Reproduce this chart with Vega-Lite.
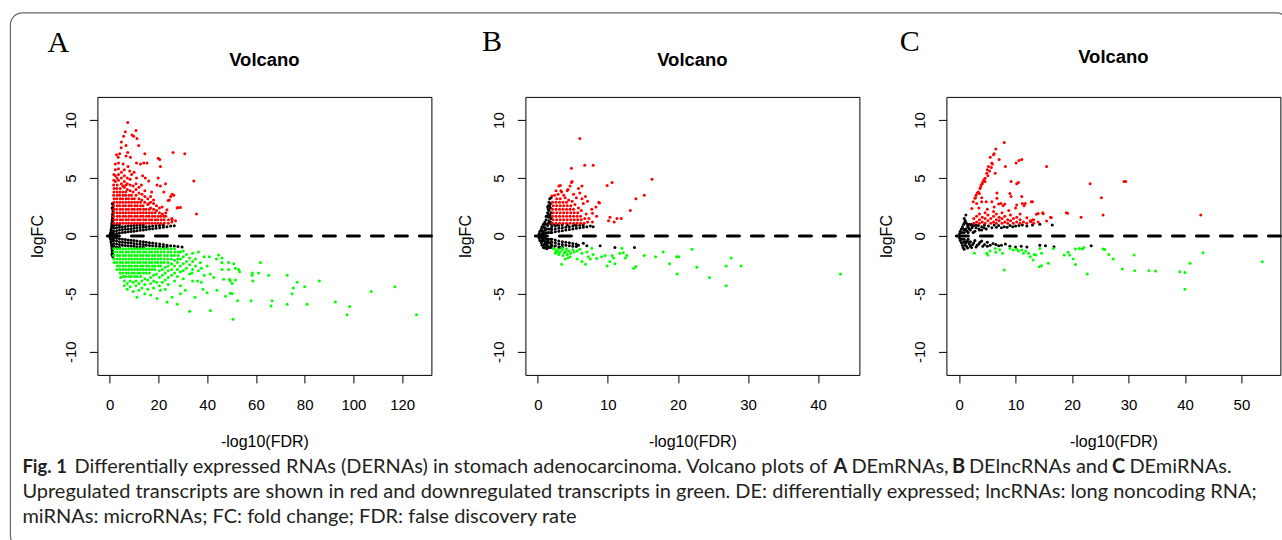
{
"$schema":"https://vega.github.io/schema/vega-lite/v6.json",
"background":"white",
"padding":{"left":8.4,"top":10.9,"right":-5.6,"bottom":-7.1},
"config":{
"font":"Liberation Sans",
"view":{"stroke":"#000","strokeWidth":1},
"axis":{"grid":false,"domain":false,"tickColor":"#000","tickSize":8,"tickWidth":1,"labelColor":"#000","labelFontSize":15,"labelFont":"Liberation Sans","titleFont":"Liberation Sans","titleFontSize":16,"titleFontWeight":"normal","titleColor":"#000","labelOverlap":false,"labelFlush":false},
"axisX":{"labelPadding":14.7,"titlePadding":21},
"axisY":{"labelAngle":270,"labelAlign":"center","labelBaseline":"bottom","labelPadding":10.9,"titlePadding":18},
"circle":{"size":9,"opacity":1}
},
"datasets":{
"A":[
{"x":0.1,"y":0,"g":"n"},{"x":0.2,"y":0.15,"g":"n"},{"x":0.2,"y":-0.15,"g":"n"},{"x":0.4,"y":0.3,"g":"n"},{"x":0.4,"y":-0.3,"g":"n"},{"x":0.5,"y":0.5,"g":"n"},{"x":0.5,"y":-0.5,"g":"n"},{"x":0.7,"y":0.7,"g":"n"},{"x":0.7,"y":-0.7,"g":"n"},{"x":0.8,"y":0.9,"g":"n"},{"x":0.8,"y":-0.9,"g":"n"},{"x":0.9,"y":1.1,"g":"n"},{"x":0.9,"y":-1.1,"g":"n"},{"x":1,"y":1.3,"g":"n"},{"x":1,"y":-1.3,"g":"n"},{"x":1.1,"y":1.5,"g":"n"},{"x":1.1,"y":-1.5,"g":"n"},{"x":1.2,"y":1.7,"g":"n"},{"x":1.2,"y":-1.7,"g":"n"},{"x":1.2,"y":1.9,"g":"n"},{"x":1.3,"y":2.1,"g":"n"},{"x":1.3,"y":2.3,"g":"n"},{"x":1.3,"y":2.5,"g":"n"},{"x":1.3,"y":2.7,"g":"n"},{"x":1.3,"y":-1.8,"g":"n"},{"x":1.1,"y":1.2,"g":"n"},{"x":1.2,"y":1,"g":"n"},{"x":1.3,"y":0.8,"g":"n"},{"x":1.3,"y":-0.8,"g":"n"},{"x":1.2,"y":-1.2,"g":"n"},{"x":1.3,"y":1.4,"g":"n"},{"x":1.3,"y":-1.4,"g":"n"},{"x":0.9,"y":0.4,"g":"n"},{"x":1.1,"y":-0.4,"g":"n"},{"x":1,"y":0.2,"g":"n"},{"x":1.3,"y":0.3,"g":"n"},{"x":1.3,"y":-0.3,"g":"n"},{"x":1.3,"y":1.8,"g":"n"},{"x":1.3,"y":-1.6,"g":"n"},{"x":1.3,"y":1.1,"g":"n"},{"x":1.3,"y":-1.1,"g":"n"},{"x":1,"y":2.4,"g":"n"},{"x":1.1,"y":2.8,"g":"n"},{"x":0.9,"y":-1.6,"g":"n"},
{"x":1.6,"y":0.15,"g":"n"},{"x":1.6,"y":0.4,"g":"n"},{"x":1.6,"y":0.65,"g":"n"},{"x":1.6,"y":0.9,"g":"n"},{"x":2.8,"y":0.2,"g":"n"},{"x":2.8,"y":0.45,"g":"n"},{"x":2.8,"y":0.7,"g":"n"},{"x":2.8,"y":0.95,"g":"n"},{"x":4,"y":0.25,"g":"n"},{"x":4,"y":0.5,"g":"n"},{"x":4,"y":0.75,"g":"n"},{"x":4,"y":0.95,"g":"n"},{"x":5.2,"y":0.3,"g":"n"},{"x":5.2,"y":0.55,"g":"n"},{"x":5.2,"y":0.8,"g":"n"},{"x":6.4,"y":0.32,"g":"n"},{"x":6.4,"y":0.57,"g":"n"},{"x":6.4,"y":0.82,"g":"n"},{"x":7.6,"y":0.35,"g":"n"},{"x":7.6,"y":0.6,"g":"n"},{"x":7.6,"y":0.85,"g":"n"},{"x":8.8,"y":0.38,"g":"n"},{"x":8.8,"y":0.62,"g":"n"},{"x":8.8,"y":0.88,"g":"n"},{"x":10,"y":0.4,"g":"n"},{"x":10,"y":0.65,"g":"n"},{"x":10,"y":0.9,"g":"n"},{"x":11.2,"y":0.45,"g":"n"},{"x":11.2,"y":0.7,"g":"n"},{"x":11.2,"y":0.92,"g":"n"},{"x":12.5,"y":0.48,"g":"n"},{"x":12.5,"y":0.72,"g":"n"},{"x":12.5,"y":0.95,"g":"n"},{"x":13.8,"y":0.5,"g":"n"},{"x":13.8,"y":0.75,"g":"n"},{"x":13.8,"y":0.95,"g":"n"},{"x":15,"y":0.55,"g":"n"},{"x":15,"y":0.78,"g":"n"},{"x":16.3,"y":0.6,"g":"n"},{"x":16.3,"y":0.82,"g":"n"},{"x":17.6,"y":0.62,"g":"n"},{"x":17.6,"y":0.85,"g":"n"},{"x":19,"y":0.66,"g":"n"},{"x":19,"y":0.88,"g":"n"},{"x":20.5,"y":0.7,"g":"n"},{"x":20.5,"y":0.9,"g":"n"},{"x":22,"y":0.75,"g":"n"},{"x":22,"y":0.93,"g":"n"},{"x":23.5,"y":0.8,"g":"n"},{"x":25,"y":0.85,"g":"n"},{"x":26.5,"y":0.88,"g":"n"},
{"x":1.6,"y":-0.15,"g":"n"},{"x":1.6,"y":-0.4,"g":"n"},{"x":1.6,"y":-0.65,"g":"n"},{"x":1.6,"y":-0.9,"g":"n"},{"x":2.8,"y":-0.2,"g":"n"},{"x":2.8,"y":-0.45,"g":"n"},{"x":2.8,"y":-0.7,"g":"n"},{"x":2.8,"y":-0.95,"g":"n"},{"x":4,"y":-0.25,"g":"n"},{"x":4,"y":-0.5,"g":"n"},{"x":4,"y":-0.75,"g":"n"},{"x":4,"y":-0.97,"g":"n"},{"x":5.2,"y":-0.3,"g":"n"},{"x":5.2,"y":-0.55,"g":"n"},{"x":5.2,"y":-0.8,"g":"n"},{"x":6.4,"y":-0.32,"g":"n"},{"x":6.4,"y":-0.57,"g":"n"},{"x":6.4,"y":-0.82,"g":"n"},{"x":7.6,"y":-0.35,"g":"n"},{"x":7.6,"y":-0.6,"g":"n"},{"x":7.6,"y":-0.85,"g":"n"},{"x":8.8,"y":-0.38,"g":"n"},{"x":8.8,"y":-0.62,"g":"n"},{"x":8.8,"y":-0.88,"g":"n"},{"x":10,"y":-0.4,"g":"n"},{"x":10,"y":-0.65,"g":"n"},{"x":10,"y":-0.9,"g":"n"},{"x":11.2,"y":-0.45,"g":"n"},{"x":11.2,"y":-0.7,"g":"n"},{"x":11.2,"y":-0.93,"g":"n"},{"x":12.5,"y":-0.48,"g":"n"},{"x":12.5,"y":-0.72,"g":"n"},{"x":12.5,"y":-0.95,"g":"n"},{"x":13.8,"y":-0.5,"g":"n"},{"x":13.8,"y":-0.75,"g":"n"},{"x":13.8,"y":-0.96,"g":"n"},{"x":15,"y":-0.55,"g":"n"},{"x":15,"y":-0.8,"g":"n"},{"x":16.3,"y":-0.6,"g":"n"},{"x":16.3,"y":-0.83,"g":"n"},{"x":17.6,"y":-0.62,"g":"n"},{"x":17.6,"y":-0.86,"g":"n"},{"x":19,"y":-0.66,"g":"n"},{"x":19,"y":-0.88,"g":"n"},{"x":20.5,"y":-0.7,"g":"n"},{"x":20.5,"y":-0.9,"g":"n"},{"x":22,"y":-0.75,"g":"n"},{"x":22,"y":-0.93,"g":"n"},{"x":23.5,"y":-0.8,"g":"n"},{"x":23.5,"y":-0.95,"g":"n"},{"x":25,"y":-0.85,"g":"n"},{"x":26.5,"y":-0.88,"g":"n"},{"x":28,"y":-0.92,"g":"n"},{"x":29.7,"y":-0.95,"g":"n"},
{"x":1.7,"y":1.1,"g":"u"},{"x":1.8,"y":1.4,"g":"u"},{"x":1.6,"y":1.7,"g":"u"},{"x":1.7,"y":2,"g":"u"},{"x":1.8,"y":2.3,"g":"u"},{"x":1.6,"y":2.6,"g":"u"},{"x":1.7,"y":2.9,"g":"u"},{"x":1.8,"y":3.2,"g":"u"},{"x":1.6,"y":3.5,"g":"u"},{"x":1.7,"y":3.8,"g":"u"},{"x":1.8,"y":4.1,"g":"u"},{"x":1.6,"y":4.4,"g":"u"},
{"x":3,"y":1.1,"g":"u"},{"x":2.9,"y":1.4,"g":"u"},{"x":3.1,"y":1.7,"g":"u"},{"x":3,"y":2,"g":"u"},{"x":2.9,"y":2.3,"g":"u"},{"x":3.1,"y":2.6,"g":"u"},{"x":3,"y":2.9,"g":"u"},{"x":2.9,"y":3.2,"g":"u"},{"x":3.1,"y":3.5,"g":"u"},{"x":3,"y":3.8,"g":"u"},{"x":2.9,"y":4.1,"g":"u"},{"x":3.1,"y":4.4,"g":"u"},
{"x":4.2,"y":1.1,"g":"u"},{"x":4.3,"y":1.4,"g":"u"},{"x":4.1,"y":1.7,"g":"u"},{"x":4.2,"y":2,"g":"u"},{"x":4.3,"y":2.3,"g":"u"},{"x":4.1,"y":2.6,"g":"u"},{"x":4.2,"y":2.9,"g":"u"},{"x":4.3,"y":3.2,"g":"u"},{"x":4.1,"y":3.5,"g":"u"},{"x":4.2,"y":3.8,"g":"u"},{"x":4.3,"y":4.1,"g":"u"},
{"x":5.4,"y":1.1,"g":"u"},{"x":5.3,"y":1.4,"g":"u"},{"x":5.5,"y":1.7,"g":"u"},{"x":5.4,"y":2,"g":"u"},{"x":5.3,"y":2.3,"g":"u"},{"x":5.5,"y":2.6,"g":"u"},{"x":5.4,"y":2.9,"g":"u"},{"x":5.3,"y":3.2,"g":"u"},{"x":5.5,"y":3.5,"g":"u"},{"x":5.4,"y":3.8,"g":"u"},
{"x":6.6,"y":1.1,"g":"u"},{"x":6.7,"y":1.4,"g":"u"},{"x":6.5,"y":1.7,"g":"u"},{"x":6.6,"y":2,"g":"u"},{"x":6.7,"y":2.3,"g":"u"},{"x":6.5,"y":2.6,"g":"u"},{"x":6.6,"y":2.9,"g":"u"},{"x":6.7,"y":3.2,"g":"u"},{"x":6.5,"y":3.5,"g":"u"},{"x":6.6,"y":3.8,"g":"u"},
{"x":7.8,"y":1.1,"g":"u"},{"x":7.7,"y":1.4,"g":"u"},{"x":7.9,"y":1.7,"g":"u"},{"x":7.8,"y":2,"g":"u"},{"x":7.7,"y":2.3,"g":"u"},{"x":7.9,"y":2.6,"g":"u"},{"x":7.8,"y":2.9,"g":"u"},{"x":7.7,"y":3.2,"g":"u"},{"x":7.9,"y":3.5,"g":"u"},
{"x":9,"y":1.1,"g":"u"},{"x":9.1,"y":1.4,"g":"u"},{"x":8.9,"y":1.7,"g":"u"},{"x":9,"y":2,"g":"u"},{"x":9.1,"y":2.3,"g":"u"},{"x":8.9,"y":2.6,"g":"u"},{"x":9,"y":2.9,"g":"u"},{"x":9.1,"y":3.2,"g":"u"},{"x":8.9,"y":3.5,"g":"u"},
{"x":10.2,"y":1.1,"g":"u"},{"x":10.1,"y":1.4,"g":"u"},{"x":10.3,"y":1.7,"g":"u"},{"x":10.2,"y":2,"g":"u"},{"x":10.1,"y":2.3,"g":"u"},{"x":10.3,"y":2.6,"g":"u"},{"x":10.2,"y":2.9,"g":"u"},{"x":10.1,"y":3.2,"g":"u"},
{"x":11.4,"y":1.1,"g":"u"},{"x":11.5,"y":1.4,"g":"u"},{"x":11.3,"y":1.7,"g":"u"},{"x":11.4,"y":2,"g":"u"},{"x":11.5,"y":2.3,"g":"u"},{"x":11.3,"y":2.6,"g":"u"},{"x":11.4,"y":2.9,"g":"u"},
{"x":12.6,"y":1.1,"g":"u"},{"x":12.5,"y":1.4,"g":"u"},{"x":12.7,"y":1.7,"g":"u"},{"x":12.6,"y":2,"g":"u"},{"x":12.5,"y":2.3,"g":"u"},{"x":12.7,"y":2.6,"g":"u"},{"x":12.6,"y":2.9,"g":"u"},
{"x":13.8,"y":1.1,"g":"u"},{"x":13.9,"y":1.4,"g":"u"},{"x":13.7,"y":1.7,"g":"u"},{"x":13.8,"y":2,"g":"u"},{"x":13.9,"y":2.3,"g":"u"},{"x":13.7,"y":2.6,"g":"u"},
{"x":15,"y":1.1,"g":"u"},{"x":14.9,"y":1.4,"g":"u"},{"x":15.1,"y":1.7,"g":"u"},{"x":15,"y":2,"g":"u"},{"x":14.9,"y":2.3,"g":"u"},
{"x":16.2,"y":1.1,"g":"u"},{"x":16.3,"y":1.4,"g":"u"},{"x":16.1,"y":1.7,"g":"u"},{"x":16.2,"y":2,"g":"u"},{"x":16.3,"y":2.3,"g":"u"},
{"x":17.4,"y":1.1,"g":"u"},{"x":17.3,"y":1.4,"g":"u"},{"x":17.5,"y":1.7,"g":"u"},{"x":17.4,"y":2,"g":"u"},
{"x":18.6,"y":1.1,"g":"u"},{"x":18.7,"y":1.4,"g":"u"},{"x":18.5,"y":1.7,"g":"u"},{"x":18.6,"y":2,"g":"u"},
{"x":19.8,"y":1.1,"g":"u"},{"x":19.7,"y":1.4,"g":"u"},{"x":19.9,"y":1.7,"g":"u"},
{"x":21,"y":1.1,"g":"u"},{"x":21.1,"y":1.4,"g":"u"},{"x":20.9,"y":1.7,"g":"u"},
{"x":22.4,"y":1.1,"g":"u"},{"x":22.3,"y":1.4,"g":"u"},{"x":24,"y":1.1,"g":"u"},{"x":24.1,"y":1.4,"g":"u"},
{"x":2.3,"y":4.7,"g":"u"},{"x":2.3,"y":5.2,"g":"u"},{"x":2.3,"y":5.7,"g":"u"},{"x":2.3,"y":6.2,"g":"u"},{"x":3.6,"y":4.8,"g":"u"},{"x":3.6,"y":5.3,"g":"u"},{"x":3.6,"y":5.8,"g":"u"},{"x":3.6,"y":6.3,"g":"u"},{"x":4.8,"y":4.5,"g":"u"},{"x":4.8,"y":5,"g":"u"},{"x":4.8,"y":5.5,"g":"u"},{"x":6,"y":4.2,"g":"u"},{"x":6,"y":4.7,"g":"u"},{"x":6,"y":5.2,"g":"u"},{"x":6,"y":5.7,"g":"u"},{"x":7.2,"y":4,"g":"u"},{"x":7.2,"y":4.5,"g":"u"},{"x":7.2,"y":5,"g":"u"},{"x":8.4,"y":3.9,"g":"u"},{"x":8.4,"y":4.4,"g":"u"},{"x":8.4,"y":4.9,"g":"u"},{"x":9.6,"y":3.8,"g":"u"},{"x":9.6,"y":4.3,"g":"u"},{"x":10.8,"y":3.5,"g":"u"},{"x":10.8,"y":4,"g":"u"},{"x":10.8,"y":4.5,"g":"u"},{"x":12,"y":3.2,"g":"u"},{"x":12,"y":3.7,"g":"u"},{"x":12,"y":4.2,"g":"u"},{"x":13.2,"y":3.1,"g":"u"},{"x":13.2,"y":3.6,"g":"u"},{"x":14.4,"y":2.9,"g":"u"},{"x":14.4,"y":3.4,"g":"u"},{"x":14.4,"y":3.9,"g":"u"},{"x":15.6,"y":2.7,"g":"u"},{"x":15.6,"y":3.2,"g":"u"},{"x":16.8,"y":2.4,"g":"u"},{"x":16.8,"y":2.9,"g":"u"},{"x":16.8,"y":3.4,"g":"u"},{"x":18,"y":2.3,"g":"u"},{"x":18,"y":2.8,"g":"u"},{"x":19.2,"y":2.2,"g":"u"},{"x":19.2,"y":2.6,"g":"u"},{"x":20.4,"y":2,"g":"u"},{"x":20.4,"y":2.4,"g":"u"},{"x":21.6,"y":1.9,"g":"u"},{"x":23,"y":1.7,"g":"u"},{"x":23,"y":2,"g":"u"},{"x":25.5,"y":1.2,"g":"u"},{"x":25.5,"y":1.5,"g":"u"},{"x":27,"y":1.3,"g":"u"},{"x":1.7,"y":4.8,"g":"u"},{"x":1.7,"y":5.3,"g":"u"},{"x":3,"y":5,"g":"u"},{"x":5.4,"y":4.3,"g":"u"},{"x":6.6,"y":4.4,"g":"u"},
{"x":7.4,"y":9.8,"g":"u"},{"x":10.8,"y":9.1,"g":"u"},{"x":6.4,"y":9,"g":"u"},{"x":5.7,"y":8.6,"g":"u"},{"x":9.2,"y":8.7,"g":"u"},{"x":9.8,"y":8.6,"g":"u"},{"x":11.2,"y":8.4,"g":"u"},{"x":4.8,"y":8.1,"g":"u"},{"x":6.7,"y":7.8,"g":"u"},{"x":11.9,"y":7.8,"g":"u"},{"x":4.7,"y":7.6,"g":"u"},{"x":4.1,"y":7.1,"g":"u"},{"x":7.4,"y":7.2,"g":"u"},{"x":6.7,"y":6.9,"g":"u"},{"x":14.4,"y":7.1,"g":"u"},{"x":19.9,"y":6.7,"g":"u"},{"x":20.5,"y":6.6,"g":"u"},{"x":26,"y":7.2,"g":"u"},{"x":30.8,"y":7.1,"g":"u"},{"x":15.3,"y":6.3,"g":"u"},{"x":14,"y":6.3,"g":"u"},{"x":12.6,"y":6.2,"g":"u"},{"x":20.8,"y":6,"g":"u"},{"x":34.5,"y":4.75,"g":"u"},{"x":14.6,"y":5,"g":"u"},{"x":16,"y":4.75,"g":"u"},{"x":19.9,"y":5,"g":"u"},{"x":22.9,"y":4.5,"g":"u"},{"x":22.2,"y":3.8,"g":"u"},{"x":25.6,"y":3.6,"g":"u"},{"x":26.3,"y":3.5,"g":"u"},{"x":19.4,"y":4.4,"g":"u"},{"x":20.8,"y":4.3,"g":"u"},{"x":24,"y":3.05,"g":"u"},{"x":24.5,"y":3.1,"g":"u"},{"x":27.7,"y":2.4,"g":"u"},{"x":29,"y":2.45,"g":"u"},{"x":35.6,"y":1.9,"g":"u"},{"x":25.6,"y":1.4,"g":"u"},{"x":22.2,"y":1.7,"g":"u"},{"x":23.5,"y":2.25,"g":"u"},{"x":21.5,"y":2.5,"g":"u"},{"x":16,"y":2.8,"g":"u"},{"x":18,"y":3.1,"g":"u"},{"x":2.8,"y":7,"g":"u"},{"x":3.5,"y":6.8,"g":"u"},{"x":5.5,"y":6.2,"g":"u"},{"x":8.5,"y":6.8,"g":"u"},{"x":11,"y":6.3,"g":"u"},{"x":9,"y":5.3,"g":"u"},{"x":10,"y":5.5,"g":"u"},{"x":8.2,"y":5.6,"g":"u"},{"x":11,"y":5,"g":"u"},{"x":13,"y":4.4,"g":"u"},{"x":7.5,"y":6,"g":"u"},{"x":28,"y":2.45,"g":"u"},{"x":25,"y":3.4,"g":"u"},{"x":17.2,"y":3.8,"g":"u"},{"x":13.5,"y":5.2,"g":"u"},
{"x":1.7,"y":-1.1,"g":"d"},{"x":1.8,"y":-1.4,"g":"d"},{"x":1.6,"y":-1.7,"g":"d"},{"x":1.7,"y":-2,"g":"d"},{"x":1.8,"y":-2.3,"g":"d"},
{"x":3,"y":-1.1,"g":"d"},{"x":2.9,"y":-1.4,"g":"d"},{"x":3.1,"y":-1.7,"g":"d"},{"x":3,"y":-2,"g":"d"},{"x":2.9,"y":-2.3,"g":"d"},{"x":3.1,"y":-2.6,"g":"d"},{"x":3,"y":-2.9,"g":"d"},
{"x":4.2,"y":-1.1,"g":"d"},{"x":4.3,"y":-1.4,"g":"d"},{"x":4.1,"y":-1.7,"g":"d"},{"x":4.2,"y":-2,"g":"d"},{"x":4.3,"y":-2.3,"g":"d"},{"x":4.1,"y":-2.6,"g":"d"},{"x":4.2,"y":-2.9,"g":"d"},{"x":4.3,"y":-3.2,"g":"d"},
{"x":5.4,"y":-1.1,"g":"d"},{"x":5.3,"y":-1.4,"g":"d"},{"x":5.5,"y":-1.7,"g":"d"},{"x":5.4,"y":-2,"g":"d"},{"x":5.3,"y":-2.3,"g":"d"},{"x":5.5,"y":-2.6,"g":"d"},{"x":5.4,"y":-2.9,"g":"d"},{"x":5.3,"y":-3.2,"g":"d"},{"x":5.5,"y":-3.5,"g":"d"},
{"x":6.6,"y":-1.1,"g":"d"},{"x":6.7,"y":-1.4,"g":"d"},{"x":6.5,"y":-1.7,"g":"d"},{"x":6.6,"y":-2,"g":"d"},{"x":6.7,"y":-2.3,"g":"d"},{"x":6.5,"y":-2.6,"g":"d"},{"x":6.6,"y":-2.9,"g":"d"},{"x":6.7,"y":-3.2,"g":"d"},{"x":6.5,"y":-3.5,"g":"d"},
{"x":7.8,"y":-1.1,"g":"d"},{"x":7.7,"y":-1.4,"g":"d"},{"x":7.9,"y":-1.7,"g":"d"},{"x":7.8,"y":-2,"g":"d"},{"x":7.7,"y":-2.3,"g":"d"},{"x":7.9,"y":-2.6,"g":"d"},{"x":7.8,"y":-2.9,"g":"d"},{"x":7.7,"y":-3.2,"g":"d"},{"x":7.9,"y":-3.5,"g":"d"},
{"x":9,"y":-1.1,"g":"d"},{"x":9.1,"y":-1.4,"g":"d"},{"x":8.9,"y":-1.7,"g":"d"},{"x":9,"y":-2,"g":"d"},{"x":9.1,"y":-2.3,"g":"d"},{"x":8.9,"y":-2.6,"g":"d"},{"x":9,"y":-2.9,"g":"d"},{"x":9.1,"y":-3.2,"g":"d"},{"x":8.9,"y":-3.5,"g":"d"},
{"x":10.2,"y":-1.1,"g":"d"},{"x":10.1,"y":-1.4,"g":"d"},{"x":10.3,"y":-1.7,"g":"d"},{"x":10.2,"y":-2,"g":"d"},{"x":10.1,"y":-2.3,"g":"d"},{"x":10.3,"y":-2.6,"g":"d"},{"x":10.2,"y":-2.9,"g":"d"},{"x":10.1,"y":-3.2,"g":"d"},{"x":10.3,"y":-3.5,"g":"d"},
{"x":11.4,"y":-1.1,"g":"d"},{"x":11.5,"y":-1.4,"g":"d"},{"x":11.3,"y":-1.7,"g":"d"},{"x":11.4,"y":-2,"g":"d"},{"x":11.5,"y":-2.3,"g":"d"},{"x":11.3,"y":-2.6,"g":"d"},{"x":11.4,"y":-2.9,"g":"d"},{"x":11.5,"y":-3.2,"g":"d"},{"x":11.3,"y":-3.5,"g":"d"},
{"x":12.6,"y":-1.1,"g":"d"},{"x":12.5,"y":-1.4,"g":"d"},{"x":12.7,"y":-1.7,"g":"d"},{"x":12.6,"y":-2,"g":"d"},{"x":12.5,"y":-2.3,"g":"d"},{"x":12.7,"y":-2.6,"g":"d"},{"x":12.6,"y":-2.9,"g":"d"},{"x":12.5,"y":-3.2,"g":"d"},{"x":12.7,"y":-3.5,"g":"d"},
{"x":13.8,"y":-1.1,"g":"d"},{"x":13.9,"y":-1.4,"g":"d"},{"x":13.7,"y":-1.7,"g":"d"},{"x":13.8,"y":-2,"g":"d"},{"x":13.9,"y":-2.3,"g":"d"},{"x":13.7,"y":-2.6,"g":"d"},{"x":13.8,"y":-2.9,"g":"d"},{"x":13.9,"y":-3.2,"g":"d"},
{"x":15,"y":-1.1,"g":"d"},{"x":14.9,"y":-1.4,"g":"d"},{"x":15.1,"y":-1.7,"g":"d"},{"x":15,"y":-2,"g":"d"},{"x":14.9,"y":-2.3,"g":"d"},{"x":15.1,"y":-2.6,"g":"d"},{"x":15,"y":-2.9,"g":"d"},{"x":14.9,"y":-3.2,"g":"d"},
{"x":16.2,"y":-1.1,"g":"d"},{"x":16.3,"y":-1.4,"g":"d"},{"x":16.1,"y":-1.7,"g":"d"},{"x":16.2,"y":-2,"g":"d"},{"x":16.3,"y":-2.3,"g":"d"},{"x":16.1,"y":-2.6,"g":"d"},{"x":16.2,"y":-2.9,"g":"d"},{"x":16.3,"y":-3.2,"g":"d"},
{"x":17.4,"y":-1.1,"g":"d"},{"x":17.3,"y":-1.4,"g":"d"},{"x":17.5,"y":-1.7,"g":"d"},{"x":17.4,"y":-2,"g":"d"},{"x":17.3,"y":-2.3,"g":"d"},{"x":17.5,"y":-2.6,"g":"d"},{"x":17.4,"y":-2.9,"g":"d"},
{"x":18.6,"y":-1.1,"g":"d"},{"x":18.7,"y":-1.4,"g":"d"},{"x":18.5,"y":-1.7,"g":"d"},{"x":18.6,"y":-2,"g":"d"},{"x":18.7,"y":-2.3,"g":"d"},{"x":18.5,"y":-2.6,"g":"d"},{"x":18.6,"y":-2.9,"g":"d"},
{"x":19.8,"y":-1.1,"g":"d"},{"x":19.7,"y":-1.4,"g":"d"},{"x":19.9,"y":-1.7,"g":"d"},{"x":19.8,"y":-2,"g":"d"},{"x":19.7,"y":-2.3,"g":"d"},{"x":19.9,"y":-2.6,"g":"d"},
{"x":21,"y":-1.1,"g":"d"},{"x":21.1,"y":-1.4,"g":"d"},{"x":20.9,"y":-1.7,"g":"d"},{"x":21,"y":-2,"g":"d"},{"x":21.1,"y":-2.3,"g":"d"},{"x":20.9,"y":-2.6,"g":"d"},
{"x":22.4,"y":-1.1,"g":"d"},{"x":22.3,"y":-1.4,"g":"d"},{"x":22.5,"y":-1.7,"g":"d"},{"x":22.4,"y":-2,"g":"d"},{"x":22.3,"y":-2.3,"g":"d"},
{"x":23.8,"y":-1.1,"g":"d"},{"x":23.9,"y":-1.4,"g":"d"},{"x":23.7,"y":-1.7,"g":"d"},{"x":23.8,"y":-2,"g":"d"},{"x":23.9,"y":-2.3,"g":"d"},
{"x":25.2,"y":-1.1,"g":"d"},{"x":25.1,"y":-1.4,"g":"d"},{"x":25.3,"y":-1.7,"g":"d"},{"x":25.2,"y":-2,"g":"d"},
{"x":26.6,"y":-1.1,"g":"d"},{"x":26.7,"y":-1.4,"g":"d"},{"x":26.5,"y":-1.7,"g":"d"},{"x":28,"y":-1.4,"g":"d"},{"x":28.1,"y":-1.7,"g":"d"},{"x":27.9,"y":-2,"g":"d"},
{"x":4.5,"y":-3.6,"g":"d"},{"x":6,"y":-3.9,"g":"d"},{"x":6,"y":-4.3,"g":"d"},{"x":7.2,"y":-4.1,"g":"d"},{"x":7.2,"y":-4.6,"g":"d"},{"x":8.4,"y":-3.9,"g":"d"},{"x":8.4,"y":-4.4,"g":"d"},{"x":9.6,"y":-4,"g":"d"},{"x":9.6,"y":-4.8,"g":"d"},{"x":10.8,"y":-3.9,"g":"d"},{"x":10.8,"y":-4.3,"g":"d"},{"x":11.2,"y":-5.3,"g":"d"},{"x":12,"y":-4.1,"g":"d"},{"x":12,"y":-4.7,"g":"d"},{"x":13.2,"y":-3.9,"g":"d"},{"x":13.2,"y":-4.5,"g":"d"},{"x":14.4,"y":-3.7,"g":"d"},{"x":14.4,"y":-4.2,"g":"d"},{"x":14.4,"y":-5,"g":"d"},{"x":15.6,"y":-3.8,"g":"d"},{"x":15.6,"y":-4.6,"g":"d"},{"x":16.8,"y":-3.6,"g":"d"},{"x":16.8,"y":-4.1,"g":"d"},{"x":16.8,"y":-5.1,"g":"d"},{"x":18,"y":-3.4,"g":"d"},{"x":18,"y":-3.9,"g":"d"},{"x":18,"y":-4.5,"g":"d"},{"x":19.2,"y":-3.3,"g":"d"},{"x":19.2,"y":-4,"g":"d"},{"x":19.4,"y":-5.4,"g":"d"},{"x":20.4,"y":-3,"g":"d"},{"x":20.4,"y":-3.6,"g":"d"},{"x":20.4,"y":-4.3,"g":"d"},{"x":20.8,"y":-4.7,"g":"d"},{"x":21.6,"y":-2.9,"g":"d"},{"x":21.6,"y":-3.4,"g":"d"},{"x":21.6,"y":-4,"g":"d"},{"x":22.8,"y":-2.7,"g":"d"},{"x":22.8,"y":-3.2,"g":"d"},{"x":22.8,"y":-3.8,"g":"d"},{"x":22.8,"y":-4.6,"g":"d"},{"x":23.5,"y":-5.7,"g":"d"},{"x":24,"y":-2.6,"g":"d"},{"x":24,"y":-3,"g":"d"},{"x":24,"y":-3.6,"g":"d"},{"x":24,"y":-4.2,"g":"d"},{"x":25.4,"y":-2.4,"g":"d"},{"x":25.4,"y":-2.9,"g":"d"},{"x":25.4,"y":-3.4,"g":"d"},{"x":25.6,"y":-5.3,"g":"d"},{"x":26.6,"y":-2.1,"g":"d"},{"x":26.6,"y":-2.6,"g":"d"},{"x":26.6,"y":-3.2,"g":"d"},{"x":26.6,"y":-3.9,"g":"d"},{"x":27.7,"y":-5.9,"g":"d"},{"x":27.8,"y":-2.3,"g":"d"},{"x":27.8,"y":-2.9,"g":"d"},{"x":27.8,"y":-3.5,"g":"d"},{"x":29,"y":-1.4,"g":"d"},{"x":29,"y":-2,"g":"d"},{"x":29,"y":-2.6,"g":"d"},{"x":29,"y":-3.1,"g":"d"},{"x":29,"y":-4.3,"g":"d"},{"x":29,"y":-5,"g":"d"},{"x":30.2,"y":-1.3,"g":"d"},{"x":30.2,"y":-1.8,"g":"d"},{"x":30.2,"y":-2.4,"g":"d"},{"x":30.2,"y":-3,"g":"d"},{"x":30.2,"y":-3.7,"g":"d"},{"x":31,"y":-4.7,"g":"d"},{"x":31.5,"y":-1.6,"g":"d"},{"x":31.5,"y":-2.2,"g":"d"},{"x":31.5,"y":-2.8,"g":"d"},{"x":32.8,"y":-1.9,"g":"d"},{"x":32.8,"y":-2.5,"g":"d"},{"x":32.8,"y":-3.3,"g":"d"},{"x":32.8,"y":-6.5,"g":"d"},{"x":33.8,"y":-3.2,"g":"d"},{"x":34,"y":-1.5,"g":"d"},{"x":34,"y":-2.2,"g":"d"},{"x":34,"y":-2.9,"g":"d"},{"x":34,"y":-3.9,"g":"d"},{"x":35,"y":-5.3,"g":"d"},{"x":35.2,"y":-2,"g":"d"},{"x":35.2,"y":-2.6,"g":"d"},{"x":36,"y":-3.9,"g":"d"},{"x":36.4,"y":-1.4,"g":"d"},{"x":36.4,"y":-3,"g":"d"},{"x":37.2,"y":-2.3,"g":"d"},{"x":37.6,"y":-2.8,"g":"d"},{"x":37.6,"y":-4,"g":"d"},{"x":38.3,"y":-4.6,"g":"d"},{"x":38.8,"y":-1.8,"g":"d"},{"x":38.8,"y":-3.4,"g":"d"},{"x":40,"y":-2.6,"g":"d"},{"x":40,"y":-4.9,"g":"d"},{"x":40.9,"y":-1.8,"g":"d"},{"x":41.3,"y":-3.3,"g":"d"},{"x":41.3,"y":-6.45,"g":"d"},{"x":42.7,"y":-3.6,"g":"d"},{"x":43.8,"y":-2,"g":"d"},{"x":44,"y":-4.7,"g":"d"},{"x":44.7,"y":-1.65,"g":"d"},{"x":46,"y":-2.3,"g":"d"},{"x":46.1,"y":-1.9,"g":"d"},{"x":46.1,"y":-2.9,"g":"d"},{"x":46.8,"y":-3.75,"g":"d"},{"x":47.5,"y":-5.2,"g":"d"},{"x":48.8,"y":-2.3,"g":"d"},{"x":48.8,"y":-2.9,"g":"d"},{"x":49.2,"y":-3.75,"g":"d"},{"x":49.5,"y":-3.9,"g":"d"},{"x":49.5,"y":-4.95,"g":"d"},{"x":50.2,"y":-4.1,"g":"d"},{"x":50.2,"y":-5,"g":"d"},{"x":50.6,"y":-7.2,"g":"d"},{"x":50.9,"y":-2.4,"g":"d"},{"x":51.6,"y":-2.8,"g":"d"},{"x":51.6,"y":-3.8,"g":"d"},{"x":52.5,"y":-5.6,"g":"d"},{"x":52.9,"y":-2.9,"g":"d"},{"x":53.3,"y":-3.1,"g":"d"},{"x":58,"y":-5.6,"g":"d"},{"x":58.4,"y":-3.4,"g":"d"},{"x":58.6,"y":-3.2,"g":"d"},{"x":58.7,"y":-3.9,"g":"d"},{"x":61.1,"y":-3.2,"g":"d"},{"x":61.8,"y":-2.3,"g":"d"},{"x":65.2,"y":-3.4,"g":"d"},{"x":66.2,"y":-6.05,"g":"d"},{"x":66.6,"y":-5.6,"g":"d"},{"x":72.8,"y":-3.4,"g":"d"},{"x":72.8,"y":-5.9,"g":"d"},{"x":74.8,"y":-5,"g":"d"},{"x":75.3,"y":-4.5,"g":"d"},{"x":76.9,"y":-4,"g":"d"},{"x":80,"y":-4.4,"g":"d"},{"x":81,"y":-5.9,"g":"d"},{"x":86,"y":-3.9,"g":"d"},{"x":92.6,"y":-5.7,"g":"d"},{"x":97.4,"y":-6.8,"g":"d"},{"x":98.5,"y":-6.1,"g":"d"},{"x":107.3,"y":-4.8,"g":"d"},{"x":117,"y":-4.4,"g":"d"},{"x":125.9,"y":-6.8,"g":"d"}
],
"B":[
{"x":0.1,"y":0,"g":"n"},{"x":0.2,"y":0.2,"g":"n"},{"x":0.2,"y":-0.2,"g":"n"},{"x":0.3,"y":0.4,"g":"n"},{"x":0.3,"y":-0.4,"g":"n"},{"x":0.5,"y":0.6,"g":"n"},{"x":0.5,"y":-0.6,"g":"n"},{"x":0.6,"y":0.8,"g":"n"},{"x":0.6,"y":-0.8,"g":"n"},{"x":0.8,"y":1,"g":"n"},{"x":0.8,"y":-1,"g":"n"},{"x":1,"y":1.2,"g":"n"},{"x":1,"y":-1.05,"g":"n"},{"x":1.2,"y":1.4,"g":"n"},{"x":1.3,"y":1.7,"g":"n"},{"x":1.4,"y":2,"g":"n"},{"x":1.5,"y":2.3,"g":"n"},{"x":1.5,"y":2.6,"g":"n"},{"x":1.6,"y":2.9,"g":"n"},{"x":1.7,"y":3.2,"g":"n"},{"x":1.9,"y":3.3,"g":"n"},{"x":1.1,"y":0.5,"g":"n"},{"x":1.1,"y":-0.5,"g":"n"},{"x":0.9,"y":0.2,"g":"n"},{"x":0.9,"y":-0.2,"g":"n"},{"x":1.4,"y":0.9,"g":"n"},{"x":1.4,"y":-0.9,"g":"n"},{"x":1.6,"y":1.3,"g":"n"},{"x":1.7,"y":1.8,"g":"n"},{"x":1.8,"y":2.4,"g":"n"},{"x":1.8,"y":0.6,"g":"n"},{"x":1.6,"y":-0.6,"g":"n"},{"x":1.3,"y":-1.1,"g":"n"},{"x":1.7,"y":-1,"g":"n"},{"x":1.9,"y":1.5,"g":"n"},{"x":1.9,"y":1,"g":"n"},{"x":1.9,"y":2,"g":"n"},{"x":1.2,"y":0,"g":"n"},{"x":0.7,"y":0.3,"g":"n"},{"x":0.7,"y":-0.3,"g":"n"},{"x":1.5,"y":0.3,"g":"n"},{"x":1.5,"y":-0.3,"g":"n"},{"x":0.4,"y":0,"g":"n"},{"x":1.2,"y":1,"g":"n"},{"x":1.3,"y":-0.8,"g":"n"},{"x":1,"y":0.7,"g":"n"},{"x":1,"y":-0.7,"g":"n"},{"x":1.6,"y":1.6,"g":"n"},{"x":1.8,"y":2.8,"g":"n"},{"x":1.4,"y":-0.4,"g":"n"},{"x":1.8,"y":-0.3,"g":"n"},{"x":1.8,"y":0.3,"g":"n"},{"x":1.9,"y":-0.8,"g":"n"},
{"x":0.3,"y":0.1,"g":"n"},{"x":0.3,"y":-0.1,"g":"n"},{"x":0.6,"y":0.15,"g":"n"},{"x":0.6,"y":-0.15,"g":"n"},{"x":0.6,"y":0.45,"g":"n"},{"x":0.6,"y":-0.45,"g":"n"},{"x":0.9,"y":0.45,"g":"n"},{"x":0.9,"y":-0.45,"g":"n"},{"x":0.9,"y":0.75,"g":"n"},{"x":0.9,"y":-0.75,"g":"n"},{"x":0.9,"y":1,"g":"n"},{"x":0.9,"y":-1,"g":"n"},{"x":1.2,"y":0.25,"g":"n"},{"x":1.2,"y":-0.25,"g":"n"},{"x":1.2,"y":0.6,"g":"n"},{"x":1.2,"y":-0.6,"g":"n"},{"x":1.2,"y":-1,"g":"n"},{"x":1.5,"y":0.6,"g":"n"},{"x":1.5,"y":-0.6,"g":"n"},{"x":1.5,"y":1.1,"g":"n"},{"x":1.5,"y":-1,"g":"n"},{"x":1.5,"y":1.9,"g":"n"},{"x":1.8,"y":1.2,"g":"n"},{"x":1.8,"y":-0.6,"g":"n"},{"x":1.8,"y":1.7,"g":"n"},{"x":1.2,"y":1.7,"g":"n"},{"x":1.4,"y":2.5,"g":"n"},{"x":1.6,"y":2.2,"g":"n"},{"x":1.7,"y":2.6,"g":"n"},
{"x":2,"y":0.3,"g":"n"},{"x":2,"y":0.55,"g":"n"},{"x":2,"y":0.8,"g":"n"},{"x":2.5,"y":0.35,"g":"n"},{"x":2.5,"y":0.6,"g":"n"},{"x":2.5,"y":0.85,"g":"n"},{"x":3,"y":0.4,"g":"n"},{"x":3,"y":0.65,"g":"n"},{"x":3,"y":0.9,"g":"n"},{"x":3.5,"y":0.45,"g":"n"},{"x":3.5,"y":0.7,"g":"n"},{"x":3.5,"y":0.95,"g":"n"},{"x":4,"y":0.5,"g":"n"},{"x":4,"y":0.75,"g":"n"},{"x":4.5,"y":0.55,"g":"n"},{"x":4.5,"y":0.8,"g":"n"},{"x":5,"y":0.6,"g":"n"},{"x":5,"y":0.85,"g":"n"},{"x":5.5,"y":0.65,"g":"n"},{"x":5.5,"y":0.9,"g":"n"},{"x":6,"y":0.7,"g":"n"},{"x":6,"y":0.92,"g":"n"},{"x":6.5,"y":0.75,"g":"n"},{"x":6.5,"y":0.95,"g":"n"},{"x":7,"y":0.8,"g":"n"},{"x":7.5,"y":0.85,"g":"n"},{"x":7.9,"y":0.8,"g":"n"},{"x":2.2,"y":1,"g":"n"},{"x":2.7,"y":0.95,"g":"n"},{"x":4.2,"y":0.95,"g":"n"},{"x":5.2,"y":0.95,"g":"n"},
{"x":2,"y":-0.3,"g":"n"},{"x":2,"y":-0.55,"g":"n"},{"x":2,"y":-0.8,"g":"n"},{"x":2,"y":-1,"g":"n"},{"x":2.5,"y":-0.35,"g":"n"},{"x":2.5,"y":-0.6,"g":"n"},{"x":2.5,"y":-0.85,"g":"n"},{"x":3,"y":-0.45,"g":"n"},{"x":3,"y":-0.7,"g":"n"},{"x":3,"y":-0.95,"g":"n"},{"x":3.5,"y":-0.5,"g":"n"},{"x":3.5,"y":-0.75,"g":"n"},{"x":3.5,"y":-0.98,"g":"n"},{"x":4,"y":-0.55,"g":"n"},{"x":4,"y":-0.8,"g":"n"},{"x":4.5,"y":-0.6,"g":"n"},{"x":4.5,"y":-0.85,"g":"n"},{"x":5,"y":-0.65,"g":"n"},{"x":5,"y":-0.9,"g":"n"},{"x":5.5,"y":-0.7,"g":"n"},{"x":5.5,"y":-0.92,"g":"n"},{"x":5.8,"y":-0.8,"g":"n"},{"x":6.5,"y":-0.63,"g":"n"},{"x":7,"y":-0.85,"g":"n"},{"x":8.9,"y":-0.86,"g":"n"},{"x":11,"y":-1,"g":"n"},{"x":13.8,"y":-1,"g":"n"},{"x":2.3,"y":-1.05,"g":"n"},{"x":3.2,"y":-1,"g":"n"},
{"x":2.1,"y":1.1,"g":"u"},{"x":2.2,"y":1.4,"g":"u"},{"x":2.1,"y":1.7,"g":"u"},{"x":2.2,"y":2,"g":"u"},{"x":2.1,"y":2.3,"g":"u"},{"x":2.2,"y":2.6,"g":"u"},{"x":2.1,"y":2.9,"g":"u"},
{"x":2.6,"y":1.1,"g":"u"},{"x":2.7,"y":1.4,"g":"u"},{"x":2.6,"y":1.7,"g":"u"},{"x":2.7,"y":2,"g":"u"},{"x":2.6,"y":2.3,"g":"u"},{"x":2.7,"y":2.6,"g":"u"},{"x":2.6,"y":2.9,"g":"u"},{"x":2.7,"y":3.2,"g":"u"},
{"x":3.1,"y":1.1,"g":"u"},{"x":3.2,"y":1.4,"g":"u"},{"x":3.1,"y":1.7,"g":"u"},{"x":3.2,"y":2,"g":"u"},{"x":3.1,"y":2.3,"g":"u"},{"x":3.2,"y":2.6,"g":"u"},{"x":3.1,"y":2.9,"g":"u"},{"x":3.2,"y":3.2,"g":"u"},
{"x":3.6,"y":1.1,"g":"u"},{"x":3.7,"y":1.4,"g":"u"},{"x":3.6,"y":1.7,"g":"u"},{"x":3.7,"y":2,"g":"u"},{"x":3.6,"y":2.3,"g":"u"},{"x":3.7,"y":2.6,"g":"u"},{"x":3.6,"y":2.9,"g":"u"},
{"x":4.1,"y":1.1,"g":"u"},{"x":4.2,"y":1.4,"g":"u"},{"x":4.1,"y":1.7,"g":"u"},{"x":4.2,"y":2,"g":"u"},{"x":4.1,"y":2.3,"g":"u"},{"x":4.2,"y":2.6,"g":"u"},{"x":4.1,"y":2.9,"g":"u"},
{"x":4.6,"y":1.1,"g":"u"},{"x":4.7,"y":1.4,"g":"u"},{"x":4.6,"y":1.7,"g":"u"},{"x":4.7,"y":2,"g":"u"},{"x":4.6,"y":2.3,"g":"u"},{"x":4.7,"y":2.6,"g":"u"},
{"x":5.1,"y":1.1,"g":"u"},{"x":5.2,"y":1.4,"g":"u"},{"x":5.1,"y":1.7,"g":"u"},{"x":5.2,"y":2,"g":"u"},{"x":5.1,"y":2.3,"g":"u"},
{"x":5.6,"y":1.1,"g":"u"},{"x":5.7,"y":1.4,"g":"u"},{"x":5.6,"y":1.7,"g":"u"},{"x":5.7,"y":2,"g":"u"},{"x":6.1,"y":1.1,"g":"u"},{"x":6.2,"y":1.4,"g":"u"},{"x":6.1,"y":1.7,"g":"u"},{"x":6.6,"y":1.1,"g":"u"},{"x":6.7,"y":1.5,"g":"u"},{"x":7.1,"y":1.2,"g":"u"},
{"x":2.4,"y":3.5,"g":"u"},{"x":2.9,"y":3.6,"g":"u"},{"x":3.3,"y":3.9,"g":"u"},{"x":3.9,"y":3.3,"g":"u"},{"x":4.4,"y":3.1,"g":"u"},{"x":4.9,"y":3,"g":"u"},{"x":5.3,"y":2.7,"g":"u"},{"x":5.8,"y":2.4,"g":"u"},{"x":6.2,"y":2.2,"g":"u"},{"x":6.9,"y":1.9,"g":"u"},{"x":7.3,"y":1.5,"g":"u"},{"x":5.1,"y":3.6,"g":"u"},{"x":5.5,"y":3.3,"g":"u"},{"x":4.3,"y":4,"g":"u"},{"x":3,"y":4.3,"g":"u"},{"x":6,"y":3.7,"g":"u"},{"x":7.1,"y":3,"g":"u"},{"x":2.6,"y":3.9,"g":"u"},{"x":2,"y":3.45,"g":"u"},{"x":3.2,"y":4.35,"g":"u"},{"x":3.4,"y":3.8,"g":"u"},{"x":4.2,"y":3.9,"g":"u"},{"x":3.7,"y":3.5,"g":"u"},{"x":4.8,"y":4.6,"g":"u"},{"x":4.9,"y":4.7,"g":"u"},{"x":5.8,"y":4.1,"g":"u"},{"x":6.3,"y":4.3,"g":"u"},{"x":4.6,"y":4.3,"g":"u"},{"x":6.8,"y":3.4,"g":"u"},{"x":6.3,"y":3.2,"g":"u"},{"x":6.5,"y":2.8,"g":"u"},{"x":8.7,"y":2.9,"g":"u"},{"x":8.8,"y":2.85,"g":"u"},{"x":7.7,"y":2.3,"g":"u"},{"x":8.3,"y":2.5,"g":"u"},{"x":7.8,"y":1.96,"g":"u"},{"x":8.4,"y":1.7,"g":"u"},{"x":7.8,"y":1.2,"g":"u"},{"x":10.3,"y":1.6,"g":"u"},{"x":10.1,"y":1.3,"g":"u"},{"x":11.3,"y":1.5,"g":"u"},{"x":11.9,"y":1.5,"g":"u"},{"x":10.9,"y":1.2,"g":"u"},{"x":13.2,"y":2.2,"g":"u"},{"x":15.2,"y":3.5,"g":"u"},{"x":14,"y":3.2,"g":"u"},{"x":10.6,"y":4.6,"g":"u"},{"x":9.9,"y":4.35,"g":"u"},{"x":16.3,"y":4.9,"g":"u"},{"x":6.7,"y":6.1,"g":"u"},{"x":7.9,"y":6.1,"g":"u"},{"x":4.8,"y":5.85,"g":"u"},{"x":6,"y":8.4,"g":"u"},
{"x":2.2,"y":-1.06,"g":"d"},{"x":2.3,"y":-1.1,"g":"d"},{"x":2.6,"y":-1.3,"g":"d"},{"x":2.9,"y":-1.15,"g":"d"},{"x":3.2,"y":-1.4,"g":"d"},{"x":3.5,"y":-1.2,"g":"d"},{"x":3.8,"y":-1.45,"g":"d"},{"x":4.1,"y":-1.1,"g":"d"},{"x":4.4,"y":-1.3,"g":"d"},{"x":4.7,"y":-1.5,"g":"d"},{"x":2.5,"y":-1.5,"g":"d"},{"x":3,"y":-1.6,"g":"d"},{"x":3.6,"y":-1.7,"g":"d"},{"x":4.2,"y":-1.6,"g":"d"},{"x":5,"y":-1.2,"g":"d"},{"x":5.2,"y":-1.4,"g":"d"},{"x":2.8,"y":-1.4,"g":"d"},{"x":3.4,"y":-1.05,"g":"d"},{"x":4,"y":-1.35,"g":"d"},{"x":3.4,"y":-2.45,"g":"d"},{"x":3.9,"y":-2,"g":"d"},{"x":4.3,"y":-1.9,"g":"d"},{"x":5.6,"y":-1.3,"g":"d"},{"x":6,"y":-1.15,"g":"d"},{"x":6.3,"y":-1.5,"g":"d"},{"x":7,"y":-1.4,"g":"d"},{"x":7.7,"y":-1.06,"g":"d"},{"x":7.9,"y":-1.6,"g":"d"},{"x":6.8,"y":-2.45,"g":"d"},{"x":7.2,"y":-1.8,"g":"d"},{"x":8.4,"y":-1.95,"g":"d"},{"x":7.5,"y":-2,"g":"d"},{"x":9.1,"y":-1.8,"g":"d"},{"x":9.6,"y":-1.7,"g":"d"},{"x":9.9,"y":-2.6,"g":"d"},{"x":10.6,"y":-1.7,"g":"d"},{"x":10.8,"y":-1.9,"g":"d"},{"x":10.3,"y":-2.2,"g":"d"},{"x":11,"y":-2.4,"g":"d"},{"x":11.7,"y":-1.5,"g":"d"},{"x":12,"y":-1.06,"g":"d"},{"x":12.2,"y":-1.45,"g":"d"},{"x":12.5,"y":-1.9,"g":"d"},{"x":12.7,"y":-1.7,"g":"d"},{"x":13.7,"y":-2.8,"g":"d"},{"x":14,"y":-2.65,"g":"d"},{"x":15.2,"y":-1.7,"g":"d"},{"x":16.8,"y":-1.8,"g":"d"},{"x":17.9,"y":-1.4,"g":"d"},{"x":18.8,"y":-2.4,"g":"d"},{"x":19.8,"y":-1.8,"g":"d"},{"x":20.1,"y":-1.8,"g":"d"},{"x":19.9,"y":-3.3,"g":"d"},{"x":22,"y":-1.15,"g":"d"},{"x":22.7,"y":-2.7,"g":"d"},{"x":24.5,"y":-3.6,"g":"d"},{"x":26.9,"y":-2.6,"g":"d"},{"x":26.9,"y":-4.3,"g":"d"},{"x":27.6,"y":-1.9,"g":"d"},{"x":29,"y":-2.6,"g":"d"},{"x":43.2,"y":-3.3,"g":"d"},{"x":5.6,"y":-2,"g":"d"},{"x":6.3,"y":-2.2,"g":"d"},{"x":4.6,"y":-1.8,"g":"d"}
],
"C":[
{"x":0,"y":0,"g":"n"},{"x":0.1,"y":0.2,"g":"n"},{"x":0.1,"y":-0.2,"g":"n"},{"x":0.2,"y":0.4,"g":"n"},{"x":0.2,"y":-0.4,"g":"n"},{"x":0.4,"y":0.6,"g":"n"},{"x":0.4,"y":-0.6,"g":"n"},{"x":0.6,"y":0.8,"g":"n"},{"x":0.6,"y":-0.8,"g":"n"},{"x":0.8,"y":1,"g":"n"},{"x":0.7,"y":-1,"g":"n"},{"x":1,"y":1.2,"g":"n"},{"x":0.9,"y":-1.15,"g":"n"},{"x":0.9,"y":0.3,"g":"n"},{"x":0.9,"y":-0.3,"g":"n"},{"x":1.2,"y":0.6,"g":"n"},{"x":1.2,"y":-0.6,"g":"n"},{"x":1.5,"y":0.9,"g":"n"},{"x":1.3,"y":-0.9,"g":"n"},{"x":1.6,"y":0.3,"g":"n"},{"x":1.6,"y":-0.3,"g":"n"},{"x":1.8,"y":1,"g":"n"},{"x":2,"y":0.5,"g":"n"},{"x":2,"y":-0.5,"g":"n"},{"x":2.3,"y":0.7,"g":"n"},{"x":2.4,"y":-0.75,"g":"n"},{"x":2.6,"y":0.9,"g":"n"},{"x":2.8,"y":0.4,"g":"n"},{"x":2.8,"y":-0.4,"g":"n"},{"x":3,"y":0.7,"g":"n"},{"x":3.2,"y":-0.8,"g":"n"},{"x":3.4,"y":0.9,"g":"n"},{"x":3.6,"y":0.5,"g":"n"},{"x":3.7,"y":-0.55,"g":"n"},{"x":4,"y":0.8,"g":"n"},{"x":4.2,"y":-0.9,"g":"n"},{"x":4.5,"y":0.95,"g":"n"},{"x":0.9,"y":1.5,"g":"n"},{"x":1.2,"y":1.8,"g":"n"},{"x":1.1,"y":1.3,"g":"n"},{"x":1.3,"y":1.1,"g":"n"},{"x":0.5,"y":0.3,"g":"n"},{"x":0.5,"y":-0.3,"g":"n"},{"x":1,"y":0.5,"g":"n"},{"x":1,"y":-0.5,"g":"n"},{"x":1.4,"y":0.4,"g":"n"},{"x":1.4,"y":-0.45,"g":"n"},{"x":1.8,"y":0.6,"g":"n"},{"x":1.8,"y":-0.7,"g":"n"},{"x":2.2,"y":0.9,"g":"n"},{"x":2.2,"y":-1,"g":"n"},{"x":1.5,"y":-1.05,"g":"n"},{"x":1.1,"y":-0.8,"g":"n"},{"x":0.8,"y":-0.55,"g":"n"},{"x":0.8,"y":0.55,"g":"n"},{"x":2.6,"y":-0.6,"g":"n"},{"x":3,"y":-0.95,"g":"n"},{"x":1.6,"y":0.75,"g":"n"},
{"x":4.8,"y":0.6,"g":"n"},{"x":5.2,"y":0.85,"g":"n"},{"x":5.8,"y":0.7,"g":"n"},{"x":6.2,"y":0.95,"g":"n"},{"x":6.6,"y":0.75,"g":"n"},{"x":7,"y":0.9,"g":"n"},{"x":7.5,"y":0.7,"g":"n"},{"x":8,"y":0.8,"g":"n"},{"x":8.5,"y":0.75,"g":"n"},{"x":9,"y":0.9,"g":"n"},{"x":9.5,"y":0.8,"g":"n"},{"x":10,"y":0.85,"g":"n"},{"x":10.6,"y":0.9,"g":"n"},{"x":11.2,"y":0.95,"g":"n"},{"x":12,"y":0.85,"g":"n"},{"x":13,"y":0.95,"g":"n"},{"x":14.3,"y":1,"g":"n"},{"x":16.5,"y":0.95,"g":"n"},{"x":2.5,"y":0.3,"g":"n"},{"x":3,"y":0.95,"g":"n"},{"x":3.5,"y":0.6,"g":"n"},{"x":4,"y":0.5,"g":"n"},{"x":4.4,"y":0.7,"g":"n"},{"x":2.2,"y":1,"g":"n"},
{"x":1.5,"y":-0.5,"g":"n"},{"x":2,"y":-0.9,"g":"n"},{"x":3.5,"y":-0.7,"g":"n"},{"x":4.5,"y":-0.75,"g":"n"},{"x":5,"y":-0.9,"g":"n"},{"x":5.5,"y":-0.8,"g":"n"},{"x":6,"y":-0.65,"g":"n"},{"x":6.5,"y":-0.75,"g":"n"},{"x":7,"y":-0.85,"g":"n"},{"x":7.5,"y":-0.8,"g":"n"},{"x":8.2,"y":-0.7,"g":"n"},{"x":9,"y":-0.9,"g":"n"},{"x":10,"y":-0.95,"g":"n"},{"x":11,"y":-0.9,"g":"n"},{"x":12,"y":-0.95,"g":"n"},{"x":14.3,"y":-0.8,"g":"n"},{"x":15.3,"y":-0.85,"g":"n"},{"x":16.8,"y":-0.93,"g":"n"},{"x":23.4,"y":-0.85,"g":"n"},{"x":4,"y":-0.45,"g":"n"},{"x":5,"y":-0.55,"g":"n"},
{"x":5.5,"y":6.8,"g":"u"},{"x":5.2,"y":6,"g":"u"},{"x":5,"y":5.7,"g":"u"},{"x":4.9,"y":5.4,"g":"u"},{"x":4.6,"y":4.97,"g":"u"},{"x":4.2,"y":4.68,"g":"u"},{"x":3.9,"y":4.4,"g":"u"},{"x":3.7,"y":4.1,"g":"u"},{"x":3.4,"y":3.8,"g":"u"},{"x":3,"y":3.5,"g":"u"},{"x":2.8,"y":3.24,"g":"u"},{"x":2.5,"y":2.95,"g":"u"},{"x":2.25,"y":2.37,"g":"u"},{"x":5.7,"y":5.9,"g":"u"},{"x":5.4,"y":5.6,"g":"u"},{"x":5.1,"y":5.2,"g":"u"},{"x":4.4,"y":4.85,"g":"u"},{"x":4.1,"y":4.5,"g":"u"},{"x":3.8,"y":4.2,"g":"u"},{"x":3.2,"y":3.7,"g":"u"},{"x":2.9,"y":3.3,"g":"u"},{"x":4.6,"y":4.7,"g":"u"},{"x":5.9,"y":6.2,"g":"u"},{"x":5.8,"y":6.3,"g":"u"},{"x":6.1,"y":7,"g":"u"},{"x":6.5,"y":7.5,"g":"u"},{"x":6.2,"y":7.1,"g":"u"},{"x":7.1,"y":6.6,"g":"u"},{"x":8,"y":8.07,"g":"u"},
{"x":8.2,"y":6,"g":"u"},{"x":10.1,"y":6.3,"g":"u"},{"x":10.6,"y":6.5,"g":"u"},{"x":11.1,"y":6.6,"g":"u"},{"x":15.5,"y":6,"g":"u"},{"x":6.4,"y":5.4,"g":"u"},{"x":9.2,"y":4.7,"g":"u"},{"x":10.2,"y":4.5,"g":"u"},{"x":10.5,"y":4.6,"g":"u"},{"x":23.2,"y":4.5,"g":"u"},{"x":29.2,"y":4.7,"g":"u"},{"x":29.5,"y":4.7,"g":"u"},{"x":25.2,"y":3.3,"g":"u"},{"x":25.5,"y":1.8,"g":"u"},{"x":42.8,"y":1.8,"g":"u"},{"x":19.2,"y":1.95,"g":"u"},{"x":21.6,"y":1.6,"g":"u"},{"x":3.6,"y":3.67,"g":"u"},
{"x":6.7,"y":3.7,"g":"u"},{"x":9,"y":3.67,"g":"u"},{"x":9.2,"y":3.4,"g":"u"},{"x":11.1,"y":3.4,"g":"u"},{"x":11.2,"y":2.8,"g":"u"},{"x":11.5,"y":2.6,"g":"u"},{"x":12.8,"y":2.95,"g":"u"},{"x":7.4,"y":2.8,"g":"u"},{"x":7.8,"y":2.6,"g":"u"},{"x":8.1,"y":2.75,"g":"u"},{"x":3.1,"y":2.8,"g":"u"},{"x":4,"y":2.95,"g":"u"},{"x":4.8,"y":2.95,"g":"u"},{"x":5.8,"y":2.95,"g":"u"},{"x":13.7,"y":1.86,"g":"u"},{"x":14.8,"y":2,"g":"u"},{"x":16.2,"y":1.6,"g":"u"},{"x":12,"y":1.57,"g":"u"},{"x":12.7,"y":1.23,"g":"u"},{"x":13,"y":1.37,"g":"u"},{"x":14.9,"y":1.92,"g":"u"},{"x":16.3,"y":1.57,"g":"u"},{"x":15.5,"y":1.28,"g":"u"},{"x":6.7,"y":3.24,"g":"u"},{"x":7,"y":2.75,"g":"u"},{"x":10.2,"y":2.67,"g":"u"},{"x":13,"y":2.95,"g":"u"},{"x":14,"y":1.94,"g":"u"},{"x":19,"y":2,"g":"u"},{"x":11.7,"y":2.8,"g":"u"},{"x":5,"y":2.3,"g":"u"},{"x":6.2,"y":2.5,"g":"u"},{"x":8.8,"y":2.2,"g":"u"},{"x":10,"y":2.4,"g":"u"},{"x":3.5,"y":2.4,"g":"u"},{"x":4,"y":3.3,"g":"u"},
{"x":2.6,"y":1.1,"g":"u"},{"x":2.6,"y":1.5,"g":"u"},{"x":3.1,"y":1.2,"g":"u"},{"x":3.1,"y":1.7,"g":"u"},{"x":3.6,"y":1.1,"g":"u"},{"x":3.6,"y":1.4,"g":"u"},{"x":3.6,"y":1.9,"g":"u"},{"x":4.1,"y":1.2,"g":"u"},{"x":4.1,"y":1.6,"g":"u"},{"x":4.6,"y":1.1,"g":"u"},{"x":4.6,"y":1.5,"g":"u"},{"x":4.6,"y":2,"g":"u"},{"x":5.1,"y":1.3,"g":"u"},{"x":5.1,"y":1.8,"g":"u"},{"x":5.6,"y":1.1,"g":"u"},{"x":5.6,"y":1.5,"g":"u"},{"x":6.1,"y":1.2,"g":"u"},{"x":6.1,"y":1.7,"g":"u"},{"x":6.1,"y":2.1,"g":"u"},{"x":6.6,"y":1.1,"g":"u"},{"x":6.6,"y":1.4,"g":"u"},{"x":6.6,"y":1.9,"g":"u"},{"x":7.1,"y":1.3,"g":"u"},{"x":7.1,"y":1.6,"g":"u"},{"x":7.6,"y":1.1,"g":"u"},{"x":7.6,"y":1.5,"g":"u"},{"x":7.6,"y":2,"g":"u"},{"x":8.1,"y":1.2,"g":"u"},{"x":8.1,"y":1.7,"g":"u"},{"x":8.6,"y":1.1,"g":"u"},{"x":8.6,"y":1.4,"g":"u"},{"x":9.1,"y":1.3,"g":"u"},{"x":9.1,"y":1.8,"g":"u"},{"x":9.6,"y":1.1,"g":"u"},{"x":9.6,"y":1.5,"g":"u"},{"x":10.2,"y":1.2,"g":"u"},{"x":10.2,"y":1.6,"g":"u"},{"x":10.8,"y":1.1,"g":"u"},{"x":10.8,"y":1.4,"g":"u"},{"x":10.8,"y":1.9,"g":"u"},{"x":11.4,"y":1.2,"g":"u"},{"x":12,"y":1.1,"g":"u"},{"x":12.6,"y":1.3,"g":"u"},{"x":13.2,"y":1.1,"g":"u"},{"x":13.2,"y":1.4,"g":"u"},{"x":14,"y":1.2,"g":"u"},
{"x":2.7,"y":-1.5,"g":"d"},{"x":5.1,"y":-1.65,"g":"d"},{"x":4.9,"y":-1.5,"g":"d"},{"x":5.5,"y":-1.3,"g":"d"},{"x":6.5,"y":-1.42,"g":"d"},{"x":6.4,"y":-1.08,"g":"d"},{"x":7.2,"y":-1.2,"g":"d"},{"x":7.7,"y":-1.5,"g":"d"},{"x":8,"y":-2.95,"g":"d"},{"x":9,"y":-1.08,"g":"d"},{"x":9.6,"y":-1.22,"g":"d"},{"x":10.2,"y":-1.13,"g":"d"},{"x":10.5,"y":-1.3,"g":"d"},{"x":11.1,"y":-1.22,"g":"d"},{"x":11.4,"y":-1.5,"g":"d"},{"x":11.8,"y":-1.3,"g":"d"},{"x":12.3,"y":-1.5,"g":"d"},{"x":12.6,"y":-1.8,"g":"d"},{"x":13.3,"y":-1.6,"g":"d"},{"x":13.1,"y":-2.08,"g":"d"},{"x":13.6,"y":-1.65,"g":"d"},{"x":14.3,"y":-1.08,"g":"d"},{"x":14.6,"y":-1.5,"g":"d"},{"x":14.2,"y":-2.66,"g":"d"},{"x":14.6,"y":-2.57,"g":"d"},{"x":15.8,"y":-2.37,"g":"d"},{"x":16.7,"y":-1.08,"g":"d"},{"x":18.6,"y":-1.65,"g":"d"},{"x":19.3,"y":-1.42,"g":"d"},{"x":19.6,"y":-1.65,"g":"d"},{"x":20.2,"y":-2,"g":"d"},{"x":20.6,"y":-2.46,"g":"d"},{"x":20.6,"y":-1.13,"g":"d"},{"x":21.3,"y":-1.08,"g":"d"},{"x":21.8,"y":-1.13,"g":"d"},{"x":22.1,"y":-1,"g":"d"},{"x":22.7,"y":-3.3,"g":"d"},{"x":25.5,"y":-1.13,"g":"d"},{"x":25.8,"y":-1.17,"g":"d"},{"x":26.5,"y":-1.6,"g":"d"},{"x":27.3,"y":-2,"g":"d"},{"x":28.9,"y":-2.86,"g":"d"},{"x":31,"y":-1.65,"g":"d"},{"x":31.1,"y":-3,"g":"d"},{"x":33.6,"y":-3,"g":"d"},{"x":34.8,"y":-3.03,"g":"d"},{"x":39.1,"y":-3.1,"g":"d"},{"x":40,"y":-3.15,"g":"d"},{"x":40,"y":-4.6,"g":"d"},{"x":40.9,"y":-2.37,"g":"d"},{"x":43.2,"y":-1.45,"g":"d"},{"x":53.7,"y":-2.23,"g":"d"}
]
},
"hconcat":[
{
"width":334,"height":278,
"layer":[
{"data":{"name":"A"},"mark":{"type":"circle"},"encoding":{
"x":{"field":"x","type":"quantitative","scale":{"domain":[-5.05,132],"nice":false,"zero":false},"axis":{"values":[0,20,40,60,80,100,120],"title":"-log10(FDR)"}},
"y":{"field":"y","type":"quantitative","scale":{"domain":[-12,12],"nice":false,"zero":false},"axis":{"values":[-10,-5,0,5,10],"title":"logFC","labelExpr":"'' + datum.value"}},
"color":{"field":"g","type":"nominal","scale":{"domain":["n","u","d"],"range":["#000000","#FF0000","#00FF00"]},"legend":null}}},
{"data":{"values":[{}]},"mark":{"type":"rule","strokeDash":[12,12],"strokeWidth":3,"strokeCap":"round","color":"#000"},"encoding":{"y":{"datum":0,"type":"quantitative"}}},
{"data":{"values":[{}]},"mark":{"type":"text","text":"Volcano","font":"Liberation Sans","fontSize":18.5,"fontWeight":"bold","align":"center","baseline":"alphabetic","color":"#000"},"encoding":{"x":{"datum":63.475,"type":"quantitative"},"y":{"datum":14.676,"type":"quantitative"}}},
{"data":{"values":[{}]},"mark":{"type":"text","text":"A","font":"Liberation Serif","fontSize":30,"align":"left","baseline":"alphabetic","color":"#000"},"encoding":{"x":{"datum":-25.5,"type":"quantitative"},"y":{"datum":15.85,"type":"quantitative"}}},
{"data":{"values":[{}]},"mark":{"type":"rect","filled":false,"color":"#666","strokeWidth":1.2,"cornerRadius":12},"encoding":{"x":{"datum":-40.75,"type":"quantitative"},"x2":{"datum":483.65},"y":{"datum":19.252,"type":"quantitative"},"y2":{"datum":-26.935}}},
{"data":{"values":[{}]},"mark":{"type":"text","text":"Fig. 1","font":"Lato","fontSize":18.5,"fontWeight":"bold","align":"left","baseline":"alphabetic","color":"#231F20"},"encoding":{"x":{"datum":-35.825,"type":"quantitative"},"y":{"datum":-20.46,"type":"quantitative"}}},
{"data":{"values":[{}]},"mark":{"type":"text","text":"Differentially expressed RNAs (DERNAs) in stomach adenocarcinoma. Volcano plots of","font":"Lato","fontSize":20,"align":"left","baseline":"alphabetic","color":"#231F20"},"encoding":{"x":{"datum":-14.49,"type":"quantitative"},"y":{"datum":-20.46,"type":"quantitative"}}},
{"data":{"values":[{}]},"mark":{"type":"text","text":"A","font":"Lato","fontSize":20,"fontWeight":"bold","align":"left","baseline":"alphabetic","color":"#231F20"},"encoding":{"x":{"datum":296.95,"type":"quantitative"},"y":{"datum":-20.46,"type":"quantitative"}}},
{"data":{"values":[{}]},"mark":{"type":"text","text":"DEmRNAs,","font":"Lato","fontSize":20,"align":"left","baseline":"alphabetic","color":"#231F20"},"encoding":{"x":{"datum":304.34,"type":"quantitative"},"y":{"datum":-20.46,"type":"quantitative"}}},
{"data":{"values":[{}]},"mark":{"type":"text","text":"B","font":"Lato","fontSize":20,"fontWeight":"bold","align":"left","baseline":"alphabetic","color":"#231F20"},"encoding":{"x":{"datum":345.58,"type":"quantitative"},"y":{"datum":-20.46,"type":"quantitative"}}},
{"data":{"values":[{}]},"mark":{"type":"text","text":"DElncRNAs and","font":"Lato","fontSize":20,"align":"left","baseline":"alphabetic","color":"#231F20"},"encoding":{"x":{"datum":352.55,"type":"quantitative"},"y":{"datum":-20.46,"type":"quantitative"}}},
{"data":{"values":[{}]},"mark":{"type":"text","text":"C","font":"Lato","fontSize":20,"fontWeight":"bold","align":"left","baseline":"alphabetic","color":"#231F20"},"encoding":{"x":{"datum":411.23,"type":"quantitative"},"y":{"datum":-20.46,"type":"quantitative"}}},
{"data":{"values":[{}]},"mark":{"type":"text","text":"DEmiRNAs.","font":"Lato","fontSize":20,"align":"left","baseline":"alphabetic","color":"#231F20"},"encoding":{"x":{"datum":418.41,"type":"quantitative"},"y":{"datum":-20.46,"type":"quantitative"}}},
{"data":{"values":[{}]},"mark":{"type":"text","text":"Upregulated transcripts are shown in red and downregulated transcripts in green. DE: differentially expressed; lncRNAs: long noncoding RNA;","font":"Lato","fontSize":20,"align":"left","baseline":"alphabetic","color":"#231F20"},"encoding":{"x":{"datum":-35.825,"type":"quantitative"},"y":{"datum":-22.619,"type":"quantitative"}}},
{"data":{"values":[{}]},"mark":{"type":"text","text":"miRNAs: microRNAs; FC: fold change; FDR: false discovery rate","font":"Lato","fontSize":20,"align":"left","baseline":"alphabetic","color":"#231F20"},"encoding":{"x":{"datum":-35.825,"type":"quantitative"},"y":{"datum":-24.777,"type":"quantitative"}}}
]
},
{
"hconcat":[
{
"width":334,"height":278,
"layer":[
{"data":{"name":"B"},"mark":{"type":"circle"},"encoding":{
"x":{"field":"x","type":"quantitative","scale":{"domain":[-1.77,45.9],"nice":false,"zero":false},"axis":{"values":[0,10,20,30,40],"title":"-log10(FDR)"}},
"y":{"field":"y","type":"quantitative","scale":{"domain":[-12,12],"nice":false,"zero":false},"axis":{"values":[-10,-5,0,5,10],"title":"logFC","labelExpr":"'' + datum.value"}},
"color":{"field":"g","type":"nominal","scale":{"domain":["n","u","d"],"range":["#000000","#FF0000","#00FF00"]},"legend":null}}},
{"data":{"values":[{}]},"mark":{"type":"rule","strokeDash":[12,12],"strokeWidth":3,"strokeCap":"round","color":"#000"},"encoding":{"y":{"datum":0,"type":"quantitative"}}},
{"data":{"values":[{}]},"mark":{"type":"text","text":"Volcano","font":"Liberation Sans","fontSize":18.5,"fontWeight":"bold","align":"center","baseline":"alphabetic","color":"#000"},"encoding":{"x":{"datum":22.065,"type":"quantitative"},"y":{"datum":14.676,"type":"quantitative"}}},
{"data":{"values":[{}]},"mark":{"type":"text","text":"B","font":"Liberation Serif","fontSize":30,"align":"left","baseline":"alphabetic","color":"#000"},"encoding":{"x":{"datum":-7.95,"type":"quantitative"},"y":{"datum":16.0,"type":"quantitative"}}}
]
},
{
"width":334,"height":278,
"layer":[
{"data":{"name":"C"},"mark":{"type":"circle"},"encoding":{
"x":{"field":"x","type":"quantitative","scale":{"domain":[-2.25,56.9],"nice":false,"zero":false},"axis":{"values":[0,10,20,30,40,50],"title":"-log10(FDR)"}},
"y":{"field":"y","type":"quantitative","scale":{"domain":[-12,12],"nice":false,"zero":false},"axis":{"values":[-10,-5,0,5,10],"title":"logFC","labelExpr":"'' + datum.value"}},
"color":{"field":"g","type":"nominal","scale":{"domain":["n","u","d"],"range":["#000000","#FF0000","#00FF00"]},"legend":null}}},
{"data":{"values":[{}]},"mark":{"type":"rule","strokeDash":[12,12],"strokeWidth":3,"strokeCap":"round","color":"#000"},"encoding":{"y":{"datum":0,"type":"quantitative"}}},
{"data":{"values":[{}]},"mark":{"type":"text","text":"Volcano","font":"Liberation Sans","fontSize":18.5,"fontWeight":"bold","align":"center","baseline":"alphabetic","color":"#000"},"encoding":{"x":{"datum":27.325,"type":"quantitative"},"y":{"datum":14.91,"type":"quantitative"}}},
{"data":{"values":[{}]},"mark":{"type":"text","text":"C","font":"Liberation Serif","fontSize":30,"align":"left","baseline":"alphabetic","color":"#000"},"encoding":{"x":{"datum":-10.49,"type":"quantitative"},"y":{"datum":16.0,"type":"quantitative"}}}
]
}
],
"spacing":87,
"bounds":"flush"
}
],
"spacing":94,
"bounds":"flush"
}
